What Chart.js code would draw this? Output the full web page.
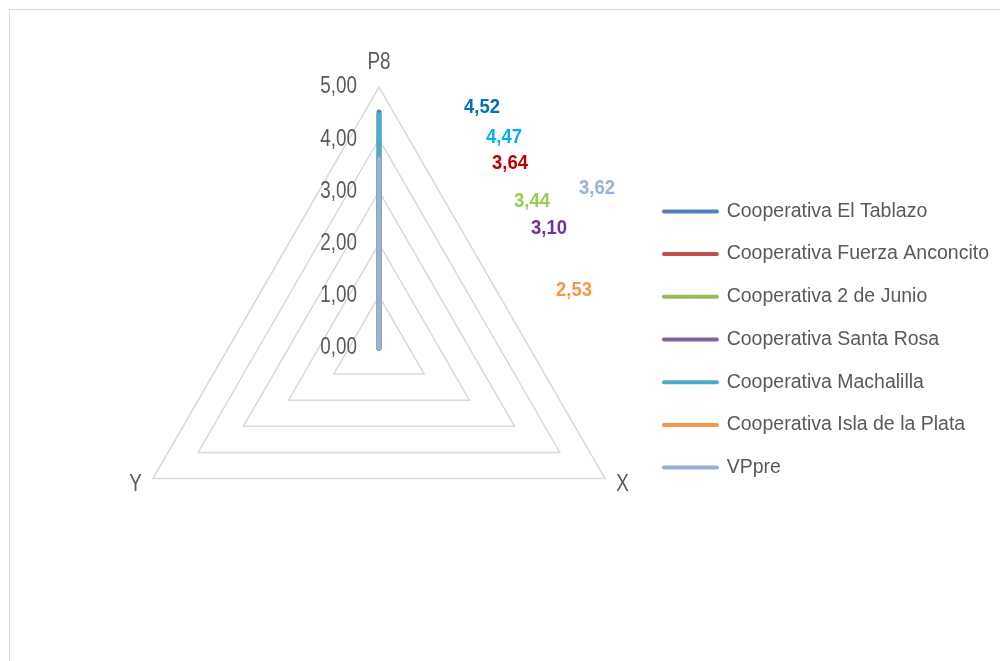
<!DOCTYPE html>
<html>
<head>
<meta charset="utf-8">
<script src="https://cdn.jsdelivr.net/npm/chart.js@4.4.1/dist/chart.umd.min.js"></script>
<style>
  html, body { margin: 0; padding: 0; background: #fff; overflow: hidden; }
  #frame { position: absolute; left: 9px; top: 9px; width: 1200px; height: 900px; border: 1px solid #D9D9D9; }
  #chartBox { position: absolute; left: 0; top: 0; width: 1000px; height: 661px; }
</style>
</head>
<body>
<div id="frame"></div>
<div id="chartBox"><canvas id="myRadar" width="1000" height="661"></canvas></div>
<script>
// axis categories
const axisLabels = ['P8', 'X', 'Y'];

// series
const seriesNames = [
    'Cooperativa El Tablazo',
    'Cooperativa Fuerza Anconcito',
    'Cooperativa 2 de Junio',
    'Cooperativa Santa Rosa',
    'Cooperativa Machalilla',
    'Cooperativa Isla de la Plata',
    'VPpre'
];
const p8Values = [4.52, 3.64, 3.44, 3.10, 4.47, 2.53, 3.62];
const xValues = [0, 0, 0, 0, 0, 0, 0];
const yValues = [0, 0, 0, 0, 0, 0, 0];

// styles
const lineColours = ['#4F81BD', '#C0504D', '#9BBB59', '#8064A2', '#4BACC6', '#F79646', '#95B3D7'];
const labelColours = ['#0070C0', '#C00000', '#92D050', '#7030A0', '#00B0F0', '#F79646', '#95B3D7'];
// where each floating value label sits, offset from the radar centre (px)
const labelOffsets = [[103, -241], [131, -185], [153, -147], [170, -120], [125, -211], [195, -58], [218, -160]];
// gap between the outer ring and each axis name
const pointLabelGap = [24, 13, 13];

const mainFont = "'Liberation Sans', Arial, sans-serif";
const squeeze = 0.82; // axis text is a narrow face in the original

function fmt(v){
    return v.toFixed(2).replace('.', ',');
}

function narrowText(ctx, text, x, y){
    ctx.save();
    ctx.translate(x, y);
    ctx.scale(squeeze, 1);
    ctx.fillText(text, 0, 0);
    ctx.restore();
}

// tick labels to the left of the P8 axis, plus the axis names
const axisTextPlugin = {
    id: 'axisText',
    afterDraw(chart){
        const r = chart.scales.r;
        const ctx = chart.ctx;
        ctx.save();
        ctx.font = '23px ' + mainFont;
        ctx.fillStyle = '#595959';
        ctx.textBaseline = 'middle';
        ctx.textAlign = 'right';
        r.ticks.forEach(function(t){
            const d = r.getDistanceFromCenterForValue(t.value);
            narrowText(ctx, fmt(t.value), r.xCenter - 22, r.yCenter - d);
        });
        for (var i = 0; i < axisLabels.length; i++){
            const p = r.getPointPosition(i, r.drawingArea + pointLabelGap[i]);
            ctx.textAlign = i === 0 ? 'center' : (i === 1 ? 'left' : 'right');
            narrowText(ctx, axisLabels[i], p.x, p.y);
        }
        ctx.restore();
    }
};

// floating value labels
const valueLabelPlugin = {
    id: 'valueLabels',
    afterDraw(chart){
        const r = chart.scales.r;
        const ctx = chart.ctx;
        ctx.save();
        ctx.font = 'bold 21px ' + mainFont;
        ctx.textAlign = 'center';
        ctx.textBaseline = 'middle';
        for (var i = 0; i < p8Values.length; i++){
            ctx.fillStyle = labelColours[i];
            ctx.save();
            ctx.translate(r.xCenter + labelOffsets[i][0], r.yCenter + labelOffsets[i][1]);
            ctx.scale(0.88, 1);
            ctx.fillText(fmt(p8Values[i]), 0, 0);
            ctx.restore();
        }
        ctx.restore();
    }
};

var datasets = [];
for (var i = 0; i < seriesNames.length; i++){
    datasets[i] = {
        label: seriesNames[i],
        data: [p8Values[i], xValues[i], yValues[i]],
        borderColor: lineColours[i],
        backgroundColor: lineColours[i],
        borderWidth: 5,
        borderCapStyle: 'round',
        borderJoinStyle: 'round',
        pointRadius: 0,
        pointHoverRadius: 0,
        pointBorderWidth: 4,
        fill: false,
        order: seriesNames.length - i
    };
}

var ctx = document.getElementById('myRadar').getContext('2d');
var myChart = new Chart(ctx, {
    type: 'radar',
    data: {
        labels: axisLabels,
        datasets: datasets
    },
    plugins: [axisTextPlugin, valueLabelPlugin],
    options: {
        responsive: false,
        animation: false,
        layout: {
            padding: { top: 18, bottom: 0, left: 0, right: 1 }
        },
        scales: {
            r: {
                min: 0,
                max: 5,
                ticks: {
                    stepSize: 1,
                    display: false
                },
                grid: {
                    color: '#D9D9D9',
                    lineWidth: 1.5
                },
                angleLines: {
                    display: false
                },
                pointLabels: {
                    display: false
                },
                afterSetDimensions: function(s){
                    s.xCenter = 379;
                    s.yCenter = 348;
                    s.drawingArea = 261;
                }
            }
        },
        plugins: {
            tooltip: { enabled: false },
            legend: {
                position: 'right',
                align: 'center',
                labels: {
                    usePointStyle: true,
                    pointStyle: 'line',
                    pointStyleWidth: 53,
                    color: '#595959',
                    padding: 23.2,
                    font: { family: mainFont, size: 19.5 },
                    sort: function(a, b){ return a.datasetIndex - b.datasetIndex; },
                    generateLabels: function(chart){
                        var items = Chart.defaults.plugins.legend.labels.generateLabels(chart);
                        items.forEach(function(it){
                            it.lineCap = 'round';
                            it.lineWidth = 4;
                        });
                        return items;
                    }
                }
            }
        }
    }
});
</script>
</body>
</html>
